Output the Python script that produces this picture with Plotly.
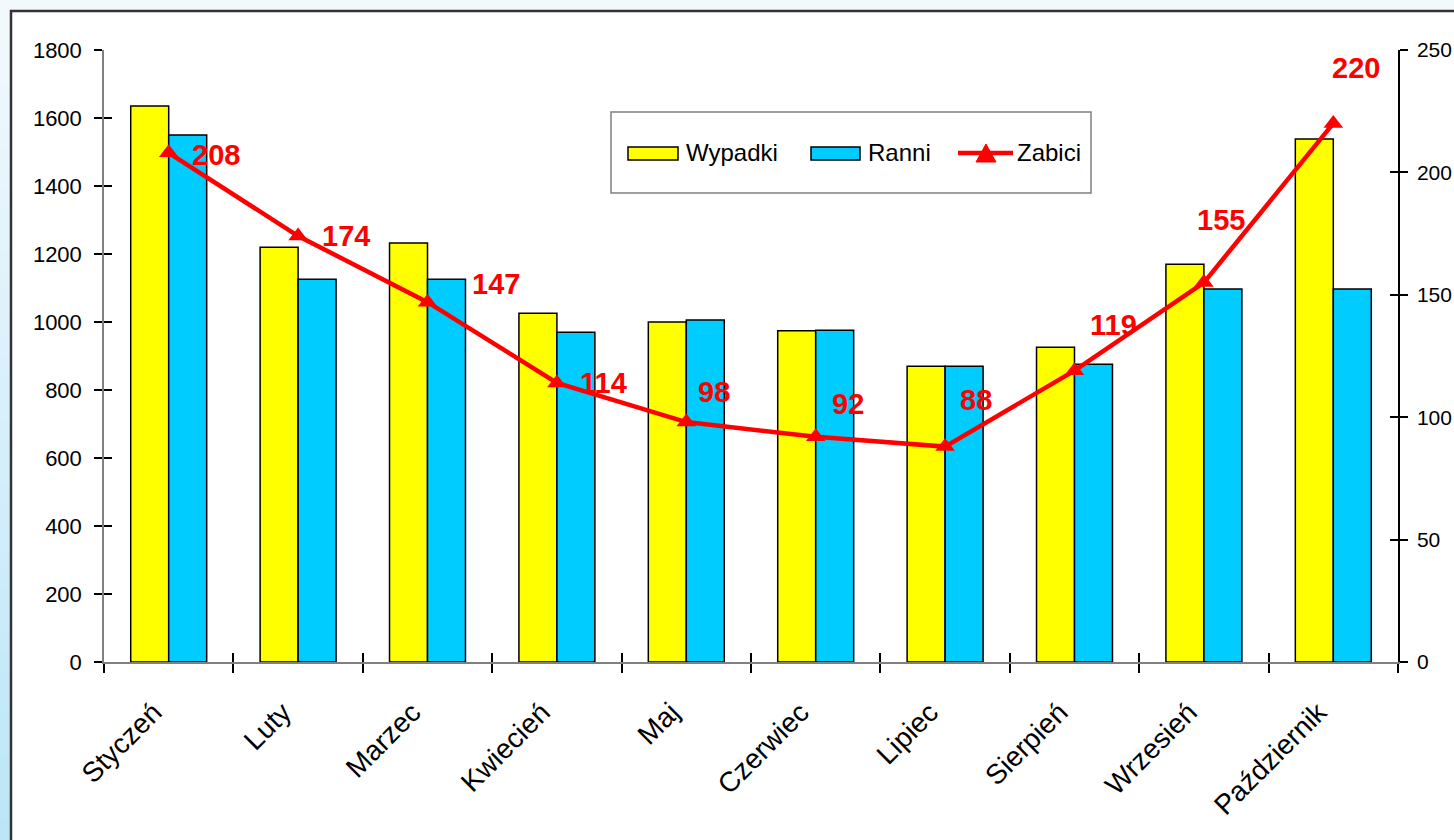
import plotly.graph_objects as go

months = ["Styczeń", "Luty", "Marzec", "Kwiecień", "Maj", "Czerwiec",
          "Lipiec", "Sierpień", "Wrzesień", "Październik"]
wypadki = [1635, 1220, 1232, 1026, 1000, 974, 870, 926, 1170, 1538]
ranni = [1550, 1126, 1126, 970, 1006, 976, 870, 876, 1097, 1097]
zabici = [208, 174, 147, 114, 98, 92, 88, 119, 155, 220]

left_ticks = [0, 200, 400, 600, 800, 1000, 1200, 1400, 1600, 1800]
right_ticks = [0, 50, 100, 150, 200, 250]

# label offsets (pixels) for value labels of the line
label_dx = [47, 48, 68, 47, 28, 32, 31, 39, 17, 23]
label_dy = [-2, 0, 18, 0, 30, 33, 47, 46, 63, 55]

W, H = 1454, 840
L, R, T, B = 104, 1398, 50, 662
FONT = "Arial, Liberation Sans, sans-serif"


def px_x(px):
    return (px - L) / (R - L)


def px_y(py):
    return (B - py) / (B - T)


fig = go.Figure()
fig.add_trace(go.Bar(x=months, y=wypadki, name="Wypadki",
                     marker=dict(color="#ffff00", line=dict(color="#000000", width=1.5)),
                     xaxis="x", yaxis="y"))
fig.add_trace(go.Bar(x=months, y=ranni, name="Ranni",
                     marker=dict(color="#00ccff", line=dict(color="#000000", width=1.5)),
                     xaxis="x", yaxis="y"))
fig.add_trace(go.Scatter(x=months, y=zabici, name="Zabici", mode="lines+markers",
                         line=dict(color="#ff0000", width=4.5),
                         marker=dict(symbol="triangle-up", size=17, color="#ff0000"),
                         xaxis="x2", yaxis="y2"))

shapes = []
# background gradient strips (left and top margins outside frame)
n = 40
c0 = (242, 249, 253)
c1 = (188, 230, 248)
for i in range(n):
    t = i / (n - 1)
    col = "rgb(%d,%d,%d)" % tuple(round(a + (b - a) * t) for a, b in zip(c0, c1))
    y0 = i * H / n
    y1 = (i + 1) * H / n + 1
    shapes.append(dict(type="rect", xref="paper", yref="paper",
                       x0=px_x(0), x1=px_x(11), y0=px_y(y1), y1=px_y(y0),
                       fillcolor=col, line=dict(width=0), layer="below"))
# white chart frame
shapes.append(dict(type="rect", xref="paper", yref="paper",
                   x0=px_x(11), x1=px_x(1480), y0=px_y(870), y1=px_y(11),
                   fillcolor="#ffffff", line=dict(color="#333333", width=2.5),
                   layer="below"))

# manual legend
shapes.append(dict(type="rect", xref="paper", yref="paper",
                   x0=px_x(611), x1=px_x(1091), y0=px_y(193), y1=px_y(112),
                   fillcolor="#ffffff", line=dict(color="#808080", width=1.5)))
shapes.append(dict(type="rect", xref="paper", yref="paper",
                   x0=px_x(628), x1=px_x(678), y0=px_y(160), y1=px_y(147),
                   fillcolor="#ffff00", line=dict(color="#000000", width=1.5)))
shapes.append(dict(type="rect", xref="paper", yref="paper",
                   x0=px_x(811), x1=px_x(860), y0=px_y(160), y1=px_y(147),
                   fillcolor="#00ccff", line=dict(color="#000000", width=1.5)))
shapes.append(dict(type="line", xref="paper", yref="paper",
                   x0=px_x(958), x1=px_x(1013), y0=px_y(153), y1=px_y(153),
                   line=dict(color="#ff0000", width=4.5)))
tri = "M %f,%f L %f,%f L %f,%f Z" % (px_x(976), px_y(162), px_x(996), px_y(162),
                                     px_x(986), px_y(144))
shapes.append(dict(type="path", xref="paper", yref="paper", path=tri,
                   fillcolor="#ff0000", line=dict(color="#ff0000", width=1)))

annotations = []
for txt, xpx in [("Wypadki", 684), ("Ranni", 866), ("Zabici", 1015)]:
    annotations.append(dict(text=txt, xref="paper", yref="paper",
                            x=px_x(xpx), y=px_y(153), xanchor="left", yanchor="middle",
                            showarrow=False, font=dict(family=FONT, size=24, color="#000000")))

for m, v, dx, dy in zip(months, zabici, label_dx, label_dy):
    annotations.append(dict(text="<b>%d</b>" % v, x=m, y=v, xref="x2", yref="y2",
                            xshift=dx, yshift=dy, showarrow=False,
                            xanchor="center", yanchor="middle",
                            font=dict(family=FONT, size=29, color="#ff0000")))

fig.update_layout(
    width=W, height=H, autosize=False,
    margin=dict(l=L, r=W - R, t=T, b=H - B, pad=0, autoexpand=False),
    paper_bgcolor="rgb(242,249,253)",
    plot_bgcolor="rgba(0,0,0,0)",
    showlegend=False,
    barmode="group", bargap=0.413, bargroupgap=0,
    font=dict(family=FONT, size=22, color="#000000"),
    shapes=shapes,
    annotations=annotations,
    xaxis=dict(type="category", categoryorder="array", categoryarray=months,
               range=[-0.5, 9.5], tickson="boundaries", ticks="outside", ticklen=9,
               tickwidth=1.5, tickcolor="#000000", showline=True, linecolor="#808080",
               linewidth=1.5, tickangle=-45, tickfont=dict(size=28),
               ticklabelstandoff=21, ticklabelshift=-15, automargin=False,
               showgrid=False, zeroline=False),
    xaxis2=dict(type="category", categoryorder="array", categoryarray=months,
                range=[-0.5, 9.5], overlaying="x", side="bottom", anchor="y",
                tickson="boundaries", ticks="inside", ticklen=9, tickwidth=1.5,
                tickcolor="#000000", showticklabels=False, showline=False,
                automargin=False, showgrid=False, zeroline=False),
    yaxis=dict(range=[0, 1800], tickvals=left_ticks, ticks="outside", ticklen=8,
               tickwidth=1.5, tickcolor="#000000", showline=True, linecolor="#808080",
               linewidth=1.5, showgrid=False, zeroline=False, ticklabelstandoff=8,
               automargin=False, tickfont=dict(size=22)),
    yaxis3=dict(range=[0, 1800], tickvals=left_ticks, overlaying="y", side="left",
                anchor="x", ticks="inside", ticklen=8, tickwidth=1.5, tickcolor="#000000",
                showticklabels=False, showline=False, showgrid=False, zeroline=False,
                automargin=False),
    yaxis2=dict(range=[0, 250], tickvals=right_ticks, overlaying="y", side="right",
                anchor="x", ticks="outside", ticklen=8, tickwidth=1.5,
                tickcolor="#000000", showline=True, linecolor="#000000", linewidth=1.5,
                showgrid=False, zeroline=False, ticklabelstandoff=5, automargin=False,
                tickfont=dict(size=21)),
    yaxis4=dict(range=[0, 250], tickvals=right_ticks, overlaying="y", side="right",
                anchor="x", ticks="inside", ticklen=8, tickwidth=1.5, tickcolor="#000000",
                showticklabels=False, showline=False, showgrid=False, zeroline=False,
                automargin=False),
)
# empty helper traces so the overlay tick axes are drawn
fig.add_trace(go.Scatter(x=[], y=[], xaxis="x", yaxis="y3", showlegend=False, hoverinfo="skip"))
fig.add_trace(go.Scatter(x=[], y=[], xaxis="x", yaxis="y4", showlegend=False, hoverinfo="skip"))

fig.write_html("out.html", config={"displayModeBar": False, "responsive": False},
               post_script="document.body.style.margin='0';document.body.style.overflow='hidden';")
